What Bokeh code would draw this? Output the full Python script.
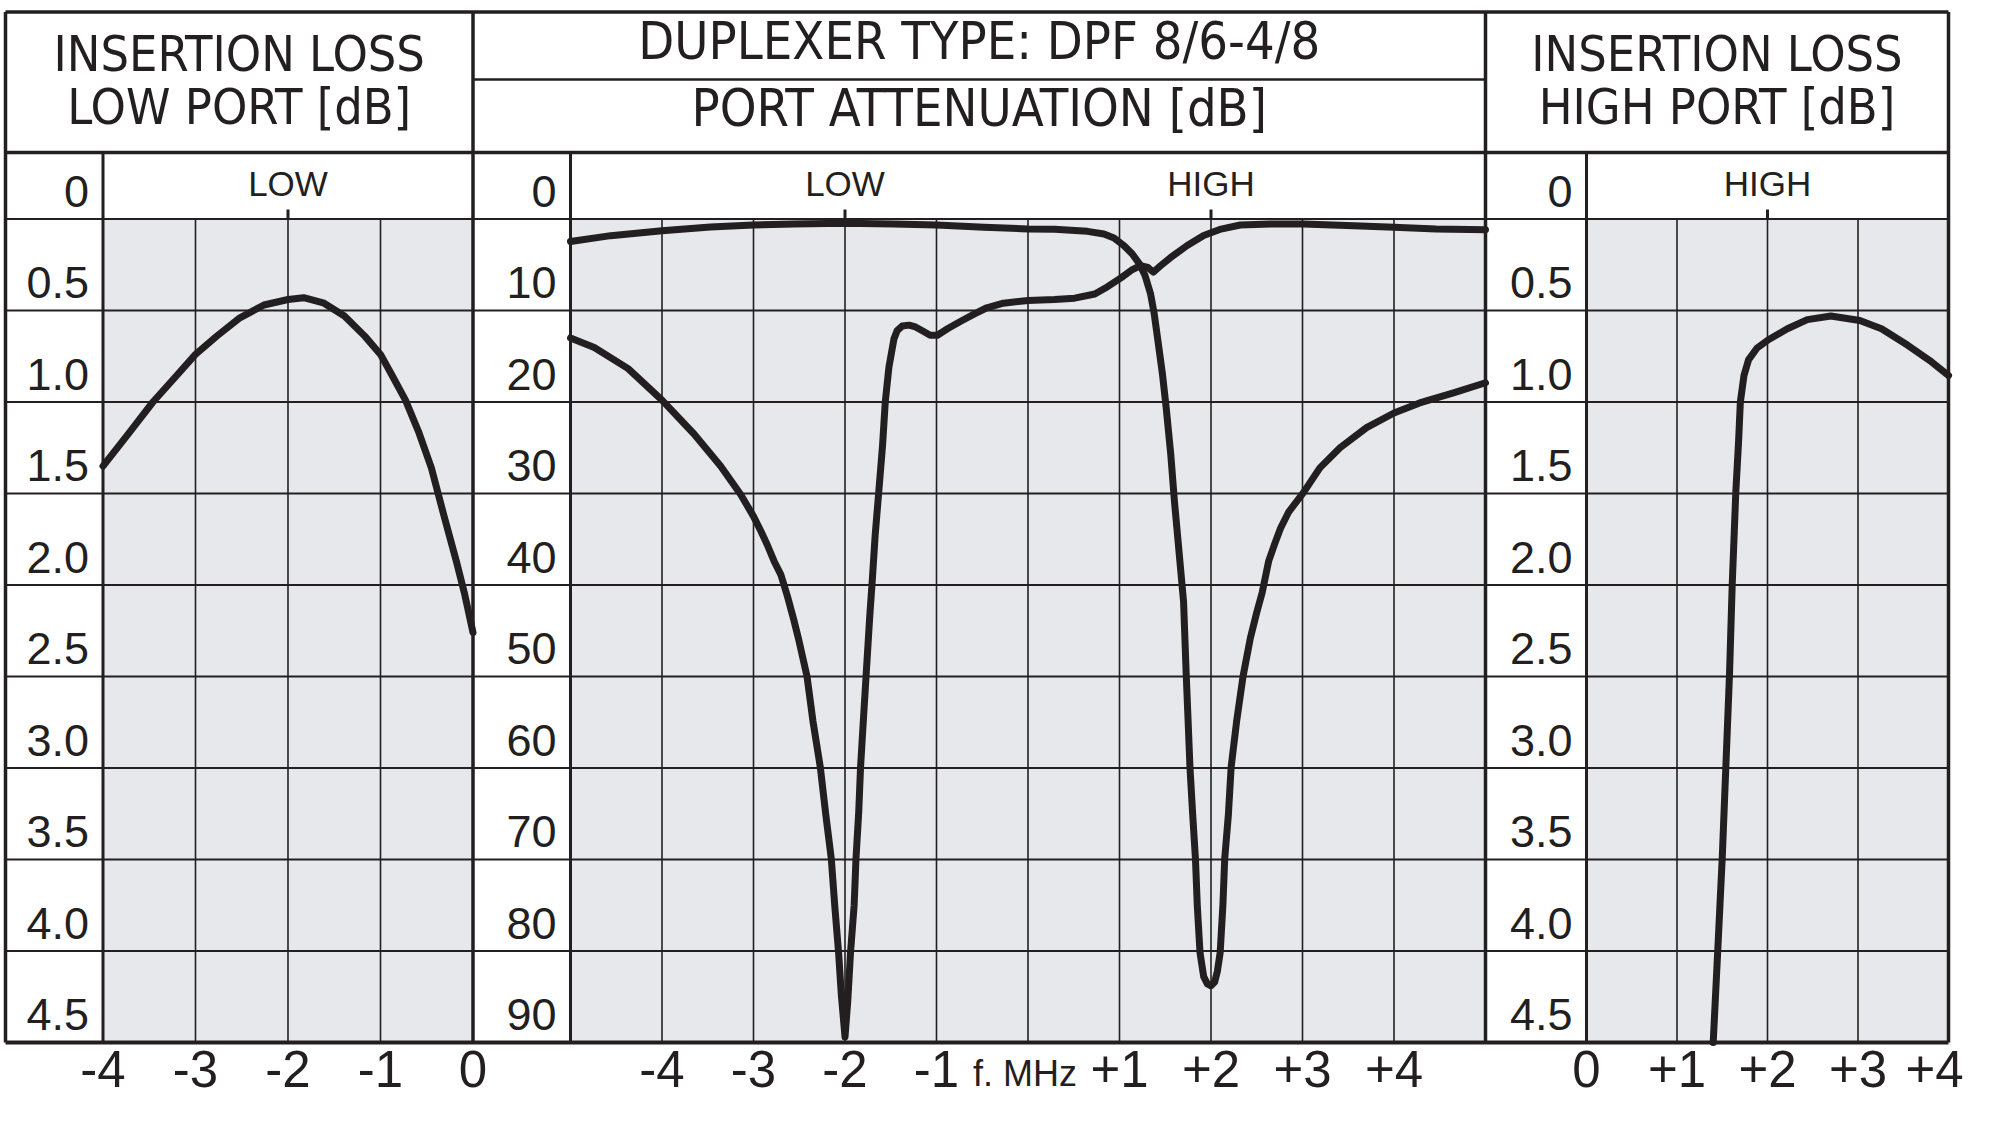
from bokeh.plotting import figure
from bokeh.models import Range1d
from bokeh.core.properties import value
from bokeh.embed import file_html
from bokeh.resources import INLINE

# ---------------------------------------------------------------- data
# Insertion loss, low port (f offset in MHz, loss in dB)
il_low_f = [-4.00, -3.72, -3.46, -3.23, -3.00, -2.77, -2.52, -2.26, -2.00, -1.83,
            -1.61, -1.39, -1.17, -1.00, -0.88, -0.73, -0.59, -0.45, -0.32, -0.18,
            -0.09, 0.00]
il_low_db = [1.35, 1.17, 1.00, 0.87, 0.74, 0.64, 0.54, 0.47, 0.44, 0.43,
             0.46, 0.53, 0.64, 0.74, 0.85, 0.99, 1.16, 1.36, 1.61, 1.87,
             2.05, 2.26]

# Port attenuation, low port (notch at +2 MHz)
att_low_f = [-5.00, -4.56, -4.00, -3.47, -3.00, -2.56, -2.01, -1.47, -1.00, -0.48,
             0.00, 0.29, 0.65, 0.83, 0.94, 1.05, 1.14, 1.22, 1.28, 1.34,
             1.38, 1.42, 1.47, 1.51, 1.56, 1.60, 1.65, 1.70, 1.73, 1.75,
             1.77, 1.80, 1.83, 1.85, 1.88, 1.92, 1.96, 2.00, 2.04, 2.07,
             2.10, 2.13, 2.15, 2.19, 2.22, 2.28, 2.35, 2.43, 2.50, 2.56,
             2.63, 2.70, 2.76, 2.85, 3.01, 3.19, 3.41, 3.70, 4.00, 4.28,
             4.65, 5.00]
att_low_db = [2.45, 1.82, 1.28, 0.88, 0.66, 0.55, 0.47, 0.55, 0.66, 0.91,
              1.09, 1.13, 1.35, 1.64, 2.08, 2.92, 3.83, 4.93, 6.2, 8.2,
              10.4, 13.3, 17.0, 20.6, 25.7, 30.8, 36.3, 41.8, 50.0, 54.9,
              59.9, 65.1, 69.9, 75.0, 80.2, 82.8, 83.6, 83.8, 83.4, 82.2,
              80.2, 75.0, 69.9, 65.1, 59.9, 54.9, 50.0, 45.8, 43.0, 40.8,
              37.4, 35.4, 33.8, 32.0, 29.9, 27.2, 25.0, 22.8, 21.2, 20.1,
              19.0, 17.9]

# Port attenuation, high port (notch at -2 MHz)
att_high_f = [-5.00, -4.74, -4.37, -4.00, -3.65, -3.36, -3.14, -3.00, -2.92, -2.85,
              -2.775, -2.70, -2.63, -2.56, -2.51, -2.415, -2.35, -2.27, -2.21, -2.15,
              -2.11, -2.07, -2.04, -2.00, -1.97, -1.94, -1.90, -1.88, -1.85, -1.83,
              -1.80, -1.77, -1.73, -1.70, -1.67, -1.63, -1.59, -1.56, -1.52, -1.465,
              -1.43, -1.375, -1.30, -1.23, -1.14, -1.07, -0.99, -0.88, -0.74, -0.59,
              -0.45, -0.27, 0.00, 0.29, 0.51, 0.73, 0.87, 1.02, 1.13, 1.23,
              1.31, 1.37, 1.45, 1.56, 1.74, 1.92, 2.11, 2.32, 2.65, 3.01,
              3.56, 4.00, 4.46, 5.00]
att_high_db = [13.0, 14.05, 16.35, 19.8, 23.5, 27.0, 30.1, 32.5, 34.1, 35.6,
               37.4, 38.9, 41.2, 43.8, 45.8, 50.0, 54.9, 59.9, 65.1, 69.9,
               75.3, 80.2, 84.8, 89.4, 85.5, 80.2, 75.0, 69.9, 64.8, 59.9,
               54.9, 50.0, 43.5, 39.2, 34.5, 29.7, 24.8, 20.0, 16.2, 13.1,
               12.2, 11.7, 11.6, 11.8, 12.3, 12.7, 12.7, 12.0, 11.2, 10.4,
               9.7, 9.2, 8.9, 8.8, 8.65, 8.2, 7.4, 6.4, 5.6, 5.1,
               5.3, 5.8, 5.1, 4.2, 2.9, 1.8, 1.1, 0.66, 0.55, 0.55,
               0.73, 0.91, 1.1, 1.17]

# Insertion loss, high port
il_high_f = [1.40, 1.45, 1.50, 1.54, 1.58, 1.61, 1.65, 1.68, 1.70, 1.74,
             1.79, 1.885, 2.01, 2.22, 2.44, 2.70, 3.02, 3.26, 3.55, 3.81, 4.00]
il_high_db = [4.50, 4.00, 3.49, 2.99, 2.49, 2.00, 1.49, 1.22, 1.00, 0.855,
              0.77, 0.705, 0.66, 0.60, 0.55, 0.53, 0.555, 0.60, 0.69, 0.78, 0.855]

# Scales and tick labels
il_rows = [0.0, 0.5, 1.0, 1.5, 2.0, 2.5, 3.0, 3.5, 4.0, 4.5]
il_row_labels = ["0", "0.5", "1.0", "1.5", "2.0", "2.5", "3.0", "3.5", "4.0", "4.5"]
att_rows = [0, 10, 20, 30, 40, 50, 60, 70, 80, 90]
att_row_labels = ["0", "10", "20", "30", "40", "50", "60", "70", "80", "90"]

low_ticks = [-4, -3, -2, -1, 0]
low_tick_labels = ["-4", "-3", "-2", "-1", "0"]
mid_ticks = [-4, -3, -2, -1, 1, 2, 3, 4]
mid_tick_labels = ["-4", "-3", "-2", "-1", "+1", "+2", "+3", "+4"]
high_ticks = [0, 1, 2, 3]
high_tick_labels = ["0", "+1", "+2", "+3"]
high_last_tick = [4]
high_last_label = ["+4"]

# ---------------------------------------------------------------- layout
W, H = 1999, 1125
INK = "#231f20"
PANEL_BG = "#e6e8ec"
F_NARROW = value("'Liberation Sans Narrow', 'DejaVu Sans Condensed', 'Liberation Sans', sans-serif")
F_REG = value("'Liberation Sans', Arial, sans-serif")
LIFT = 0.42   # baseline correction, in em

L, R, T, B = 5.0, 1948.0, 11.5, 1042.0
HB = 152.0          # bottom of title band
GT = 218.5          # top of the graph grid (0 dB)
MID_SPLIT = 79.0    # split inside the centre title cell
DIV1, DIV2 = 472.5, 1485.0
LO_X0, MID_X0, HI_X0 = 102.5, 570.0, 1586.0


def span_range(d0, d1, p0, p1, total):
    """Range over the whole canvas so that d0..d1 lands on pixels p0..p1."""
    k = (p1 - p0) / (d1 - d0)
    return Range1d(d0 - p0 / k, d0 + (total - p0) / k)


def span_range_flipped(d0, d1, p0, p1, total):
    k = (p1 - p0) / (d1 - d0)
    return Range1d(d0 + (total - p0) / k, d0 - p0 / k)


def label(x, y, text, size, align="center", dy=0.0, **kw):
    p.text(x=x, y=y, text=text, text_font=kw.pop("font", F_REG),
           text_font_size=f"{size}px", text_color=INK, text_align=align,
           text_baseline="alphabetic", y_offset=dy - LIFT * size, **kw)


p = figure(width=W, height=H, x_range=Range1d(0, W), y_range=Range1d(H, 0),
           x_axis_type=None, y_axis_type=None, toolbar_location=None,
           output_backend="svg", min_border=0, outline_line_color=None,
           background_fill_color="white", border_fill_color="white")
p.grid.visible = False

p.extra_x_ranges = {
    "lo": span_range(-4, 0, LO_X0, DIV1, W),
    "mid": span_range(-5, 5, MID_X0, DIV2, W),
    "hi": span_range(0, 4, HI_X0, R, W),
}
p.extra_y_ranges = {
    "il": span_range_flipped(0, 4.5, GT, B, H),
    "att": span_range_flipped(0, 90, GT, B, H),
}

panels = [
    ("lo", "il", -4, 0, [-3, -2, -1]),
    ("mid", "att", -5, 5, [-4, -3, -2, -1, 0, 1, 2, 3, 4]),
    ("hi", "il", 0, 4, [1, 2, 3]),
]

# grey plotting areas and vertical grid lines
for xr, yr, x0, x1, grid_x in panels:
    bottom = 4.5 if yr == "il" else 90
    p.quad(left=[x0], right=[x1], top=[0], bottom=[bottom], x_range_name=xr,
           y_range_name=yr, fill_color=PANEL_BG, line_color=None)
    p.segment(x0=grid_x, x1=grid_x, y0=[0] * len(grid_x), y1=[bottom] * len(grid_x),
              x_range_name=xr, y_range_name=yr, line_color=INK, line_width=1.6)

# horizontal row lines running across all three panels
p.segment(x0=[L] * (len(il_rows) - 1), x1=[R] * (len(il_rows) - 1),
          y0=il_rows[:-1], y1=il_rows[:-1], y_range_name="il",
          line_color=INK, line_width=2.0)

# LOW / HIGH centre-frequency markers above the grid
for xr, fx, lab in [("lo", -2, "LOW"), ("mid", -2, "LOW"), ("mid", 2, "HIGH"), ("hi", 2, "HIGH")]:
    p.segment(x0=[fx], x1=[fx], y0=[209], y1=[GT], x_range_name=xr,
              line_color=INK, line_width=3)
    label([fx], [198], [lab], 35, x_range_name=xr)

# curves
curves = [("lo", "il", il_low_f, il_low_db),
          ("mid", "att", att_low_f, att_low_db),
          ("mid", "att", att_high_f, att_high_db),
          ("hi", "il", il_high_f, il_high_db)]
for xr, yr, fx, fy in curves:
    p.line(x=fx, y=fy, x_range_name=xr, y_range_name=yr, line_color=INK,
           line_width=7, line_join="round", line_cap="round")

# frame of the table
frame_lines = [
    ([L, R], [T, T], 3.5), ([L, R], [B, B], 4.0), ([L, L], [T, B], 3.5), ([R, R], [T, B], 3.5),
    ([L, R], [HB, HB], 3.5), ([DIV1, DIV2], [MID_SPLIT, MID_SPLIT], 2.5),
    ([DIV1, DIV1], [T, B], 3.5), ([DIV2, DIV2], [T, B], 3.5),
    ([LO_X0, LO_X0], [HB, B], 3.0), ([MID_X0, MID_X0], [HB, B], 3.0), ([HI_X0, HI_X0], [HB, B], 3.0),
]
for xs, ys, lw in frame_lines:
    p.line(x=xs, y=ys, line_color=INK, line_width=lw)

# value labels in the left-hand column of each panel
for col_x, yr, vals, labs in [(LO_X0, "il", il_rows, il_row_labels),
                              (MID_X0, "att", att_rows, att_row_labels),
                              (HI_X0, "il", il_rows, il_row_labels)]:
    label([col_x - 14] * len(vals), vals, labs, 45, align="right", dy=-9,
          y_range_name=yr)

# frequency labels under each panel
BASE = 1090
for xr, ticks, labs in [("lo", low_ticks, low_tick_labels),
                        ("mid", mid_ticks, mid_tick_labels),
                        ("hi", high_ticks, high_tick_labels)]:
    label(ticks, [BASE] * len(ticks), labs, 51, x_range_name=xr)
label(high_last_tick, [BASE], high_last_label, 51, x_range_name="hi", x_offset=-14)
label([0], [1088], ["f. MHz"], 36, x_range_name="mid", x_offset=-3)

# title cells
titles = [
    ((L + DIV1) / 2, 74, "INSERTION LOSS", 50),
    ((L + DIV1) / 2, 127, "LOW PORT [dB]", 50),
    ((DIV1 + DIV2) / 2, 62, "DUPLEXER TYPE: DPF 8/6-4/8", 52),
    ((DIV1 + DIV2) / 2, 129, "PORT ATTENUATION [dB]", 52),
    ((DIV2 + R) / 2, 74, "INSERTION LOSS", 50),
    ((DIV2 + R) / 2, 127, "HIGH PORT [dB]", 50),
]
for tx, ty, txt, fs in titles:
    label([tx], [ty], [txt], fs, font=F_NARROW)

open("out.html", "w").write(file_html(p, INLINE))
